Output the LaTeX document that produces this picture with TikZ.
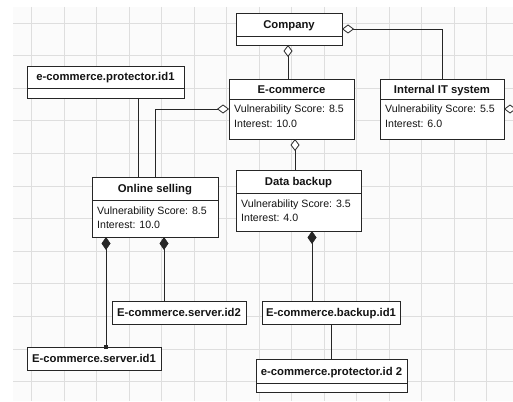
\documentclass[tikz,border=0pt]{standalone}
\usepackage{fontspec}
\setmainfont{Liberation Sans}
\usetikzlibrary{arrows.meta}
\definecolor{gridc}{HTML}{DEDEDE}
\definecolor{bgc}{HTML}{FBFBFB}
\definecolor{linec}{HTML}{262626}
\definecolor{txtc}{HTML}{141414}
\newcommand{\umlcls}[9]{%
  \node[umlbox, minimum width={(#4-#2)*1pt}, minimum height={(#5-#3)*1pt}] (#1) at (#2,#3) {};
  \draw[divl] (#2,#6) -- (#4,#6);
  \node[ttl] (#1t) at ({(#2+#4)/2},{(#3+#6)/2+4}) {#7};
  \node[attr] (#1a) at (#2+5,#6+14) {#8};
  \node[attr] (#1b) at (#2+5,#6+28.5) {#9};
}
\newcommand{\umlempty}[7]{%
  \node[umlbox, minimum width={(#4-#2)*1pt}, minimum height={(#5-#3)*1pt}] (#1) at (#2,#3) {};
  \draw[divl] (#2,#6) -- (#4,#6);
  \node[ttl] (#1t) at ({(#2+#4)/2},{(#3+#6)/2+4}) {#7};
}
\newcommand{\umlplain}[6]{%
  \node[umlbox, minimum width={(#4-#2)*1pt}, minimum height={(#5-#3)*1pt}] (#1) at (#2,#3) {};
  \node[ttl] (#1t) at ({(#2+#4)/2},{(#3+#5)/2+4}) {#6};
}
\begin{document}
\begin{tikzpicture}[x=1pt,y=-1pt,
  umlbox/.style={draw=linec, line width=0.8pt, fill=white, inner sep=0pt, outer sep=0pt, anchor=north west},
  ttl/.style={font=\fontsize{11.3}{13}\selectfont\bfseries, text=txtc, inner sep=0pt, anchor=base},
  attr/.style={font=\fontsize{10.6}{13}\selectfont, text=txtc, inner sep=0pt, anchor=base west},
  conn/.style={draw=linec, line width=0.8pt},
  aggr/.style={conn, {Diamond[length=12pt,width=9pt,fill=white]}-},
  comp/.style={conn, {Diamond[length=13pt,width=9pt]}-},
  divl/.style={draw=linec, line width=0.8pt}]
\useasboundingbox (0,0) rectangle (513,401);
\clip (0,0) rectangle (513,401);
\fill[white] (0,0) rectangle (513,401);
\fill[bgc] (13,7) rectangle (513,401);
\foreach \i in {0,...,14} \draw[gridc, line width=0.7pt] ({31.5+32.5*\i},7) -- ({31.5+32.5*\i},401);
\foreach \j in {0,...,11} \draw[gridc, line width=0.7pt] (13,{23+32.6*\j}) -- (513,{23+32.6*\j});

% classes
\umlempty{company}{236}{13}{342}{45}{36}{Company}
\umlcls{ecom}{229}{79}{354}{139}{99}{E-commerce}{Vulnerability Score: 8.5}{Interest: 10.0}
\umlcls{internal}{380}{79}{504}{139}{99}{Internal IT system}{Vulnerability Score: 5.5}{Interest: 6.0}
\umlempty{prota}{27}{66}{184}{98}{88}{e-commerce.protector.id1}
\umlcls{online}{92}{177}{218}{237}{200}{Online selling}{Vulnerability Score: 8.5}{Interest: 10.0}
\umlcls{data}{236}{170}{361}{231}{193}{Data backup}{Vulnerability Score: 3.5}{Interest: 4.0}
\umlplain{srvb}{112}{301}{246}{324}{E-commerce.server.id2}
\umlplain{bak}{262}{301}{400}{324}{E-commerce.backup.id1}
\umlplain{srva}{27}{347}{161}{370}{E-commerce.server.id1}
\umlempty{protb}{256}{359}{407}{392}{383}{e-commerce.protector.id 2}

% connectors
\coordinate (offr) at (540,109);
\draw[aggr] (company.east) -| (internal.north);
\draw[aggr] ([xshift=-1pt]company.south) -- ([xshift=-1pt]company.south |- ecom.north);
\draw[aggr] (ecom.west) -| (online.north);
\draw[conn] ([xshift=32.5pt]prota.south) -- ([xshift=32.5pt]prota.south |- online.north);
\draw[aggr] ([xshift=3.5pt]ecom.south) -- ([xshift=3.5pt]ecom.south |- data.north);
\draw[aggr] (internal.east) -- (internal.east -| offr);
\coordinate (sq) at ([xshift=-49pt]online.south |- srva.north);
\draw[comp] ([xshift=-49pt]online.south) -- (sq);
\fill[linec] (sq) +(-1.8,-1.8) rectangle +(1.8,1.8);
\draw[comp] ([xshift=9pt]online.south) -- ([xshift=9pt]online.south |- srvb.north);
\draw[comp] ([xshift=13.5pt]data.south) -- ([xshift=13.5pt]data.south |- bak.north);
\draw[conn] (bak.south) -- (bak.south |- protb.north);
\end{tikzpicture}
\end{document}
